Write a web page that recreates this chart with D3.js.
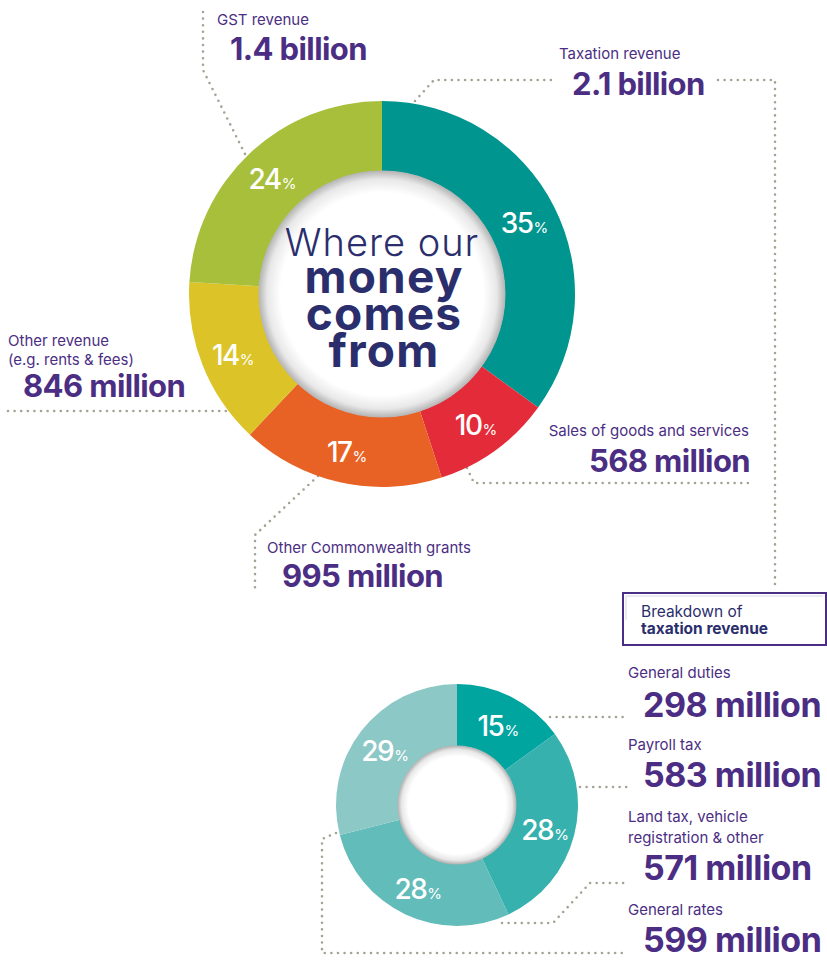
<!DOCTYPE html>
<html>
<head>
<meta charset="utf-8">
<script src="https://cdn.jsdelivr.net/npm/d3@7"></script>
<style>
  html, body { margin: 0; padding: 0; background: #ffffff; }
  svg { display: block; font-family: Inter, "Open Sans", sans-serif; }
</style>
</head>
<body>
<svg id="chart" width="827" height="965"></svg>
<script>
// ---------- DATA ----------
const mainCategories = ["Taxation revenue", "Sales of goods and services", "Other Commonwealth grants", "Other revenue", "GST revenue"];
const mainSubLines   = [[], [], [], ["(e.g. rents & fees)"], []];
const mainPercents   = [35, 10, 17, 14, 24];
const mainAmounts    = ["2.1 billion", "568 million", "995 million", "846 million", "1.4 billion"];
const mainColors     = ["#00968f", "#e42b39", "#e86226", "#dcc428", "#a7bf3a"];

const taxCategories  = [["General duties"], ["Payroll tax"], ["Land tax, vehicle", "registration & other"], ["General rates"]];
const taxPercents    = [15, 28, 28, 29];
const taxAmounts     = ["298 million", "583 million", "571 million", "599 million"];
const taxColors      = ["#00a5a0", "#37b1ae", "#62bcb9", "#8cc8c6"];

const centerTitle    = ["Where our", "money", "comes", "from"];
const breakdownTitle = ["Breakdown of", "taxation revenue"];

// ---------- STYLE ----------
const PURPLE = "#4b2e83";
const NAVY = "#2b2e6d";
const DOTS = "#a3a394";

const svg = d3.select("#chart");
const defs = svg.append("defs");

function holeGradient(id, edge) {
  const g = defs.append("radialGradient").attr("id", id).attr("cx", "50%").attr("cy", "50%").attr("r", "50%");
  g.append("stop").attr("offset", "0%").attr("stop-color", "#ffffff");
  g.append("stop").attr("offset", "82%").attr("stop-color", "#ffffff");
  g.append("stop").attr("offset", "93%").attr("stop-color", "#e8e8e8");
  g.append("stop").attr("offset", "100%").attr("stop-color", edge);
}
holeGradient("holeMain", "#b3b3b3");
holeGradient("holeTax", "#afafaf");

// dotted connector helper
function dotted(points) {
  svg.append("path")
    .attr("d", d3.line()(points))
    .attr("fill", "none")
    .attr("stroke", DOTS)
    .attr("stroke-width", 2.6)
    .attr("stroke-linecap", "round")
    .attr("stroke-dasharray", "0 6.6");
}

// ---------- CONNECTORS (drawn under the rings) ----------
dotted([[203, 12], [203, 70], [246, 156]]);                       // GST
dotted([[415, 101], [434, 80], [551, 80]]);                       // Taxation left part
dotted([[718, 80], [775, 80], [775, 587]]);                       // Taxation right part
dotted([[8, 411], [232, 411]]);                                   // Other revenue
dotted([[467, 468], [474, 483], [751, 483]]);                     // Sales
dotted([[318, 476], [255, 535], [255, 593]]);                     // Commonwealth
dotted([[550, 717], [626, 717]]);                                 // General duties
dotted([[580, 787], [628, 787]]);                                 // Payroll
dotted([[502, 923], [553, 923], [590, 883], [628, 883]]);         // Land tax
dotted([[336, 833], [322, 839], [322, 953], [628, 953]]);         // General rates

// ---------- DONUT DRAWER ----------
function donut(cx, cy, rOuter, rInner, values, colors, holeId, pctRadius) {
  const g = svg.append("g").attr("transform", `translate(${cx},${cy})`);
  const pie = d3.pie().sort(null).value(d => d)(values);
  const arc = d3.arc().innerRadius(rInner).outerRadius(rOuter);
  g.selectAll("path.slice").data(pie).join("path")
    .attr("class", "slice")
    .attr("d", arc)
    .attr("fill", (d, i) => colors[i]);
  g.append("circle").attr("r", rInner + 0.5).attr("fill", `url(#${holeId})`);
  const labelArc = d3.arc().innerRadius(pctRadius).outerRadius(pctRadius);
  const t = g.selectAll("text.pct").data(pie).join("text")
    .attr("class", "pct")
    .attr("transform", d => { const c = labelArc.centroid(d); return `translate(${c[0]},${c[1] + 12})`; })
    .attr("text-anchor", "middle")
    .attr("fill", "#ffffff");
  t.append("tspan").attr("font-size", 28).attr("font-weight", 500).attr("letter-spacing", -1.5).text(d => d.data);
  t.append("tspan").attr("font-size", 15).attr("font-weight", 400).attr("dx", 1).text("%");
  return g;
}

donut(382, 294, 193, 123, mainPercents, mainColors, "holeMain", 160);
donut(457, 805, 121, 59, taxPercents, taxColors, "holeTax", 91);

// ---------- CENTER TITLE (one text element, tight leading) ----------
const ct = svg.append("text").attr("fill", NAVY).attr("text-anchor", "middle");
ct.append("tspan").attr("x", 382).attr("y", 256).attr("font-size", 38).attr("font-weight", 300)
  .attr("letter-spacing", 1).text(centerTitle[0]);
[293, 330, 367].forEach((y, k) => {
  ct.append("tspan").attr("x", 384).attr("y", y).attr("font-size", 46).attr("font-weight", 700)
    .attr("letter-spacing", 1.2).text(centerTitle[k + 1]);
});

// ---------- MAIN LABELS ----------
// layout: [labelX, labelY, amountX, amountY, anchor]
const mainLayout = [
  [559, 59, 572, 95, "start"],
  [749, 436, 750, 472, "end"],
  [267, 553, 282, 587, "start"],
  [8, 346, 23, 397, "start"],
  [217, 25, 230, 60, "start"]
];
mainCategories.forEach((name, i) => {
  const [lx, ly, ax, ay, anchor] = mainLayout[i];
  const g = svg.append("g").attr("text-anchor", anchor).attr("fill", PURPLE);
  g.append("text").attr("x", lx).attr("y", ly).attr("font-size", 15).text(name);
  mainSubLines[i].forEach((s, k) => {
    g.append("text").attr("x", lx).attr("y", ly + 19 * (k + 1)).attr("font-size", 15).text(s);
  });
  g.append("text").attr("x", ax).attr("y", ay).attr("font-size", 31).attr("font-weight", 700)
    .attr("letter-spacing", -0.6).text(mainAmounts[i]);
});

// ---------- BREAKDOWN BOX ----------
svg.append("rect").attr("x", 623).attr("y", 593).attr("width", 203).attr("height", 52)
  .attr("fill", "#ffffff").attr("stroke", PURPLE).attr("stroke-width", 2);
svg.append("path").attr("d", "M626,620 L626,596 L823,596").attr("fill", "none")
  .attr("stroke", "#d9d2e8").attr("stroke-width", 1);
svg.append("text").attr("x", 641).attr("y", 617).attr("font-size", 15.5).attr("fill", NAVY).text(breakdownTitle[0]);
svg.append("text").attr("x", 641).attr("y", 634).attr("font-size", 15.5).attr("font-weight", 700).attr("fill", NAVY).text(breakdownTitle[1]);

// ---------- TAX LABELS ----------
const taxLayout = [[678, 717], [750, 787], [822, 880], [915, 952]];
taxCategories.forEach((lines, i) => {
  const [ly, ay] = taxLayout[i];
  const g = svg.append("g").attr("fill", PURPLE);
  lines.forEach((s, k) => {
    g.append("text").attr("x", 628).attr("y", ly + 21 * k).attr("font-size", 15).text(s);
  });
  g.append("text").attr("x", 643).attr("y", ay).attr("font-size", 34).attr("font-weight", 700)
    .attr("letter-spacing", -0.5).text(taxAmounts[i]);
});
</script>
</body>
</html>
